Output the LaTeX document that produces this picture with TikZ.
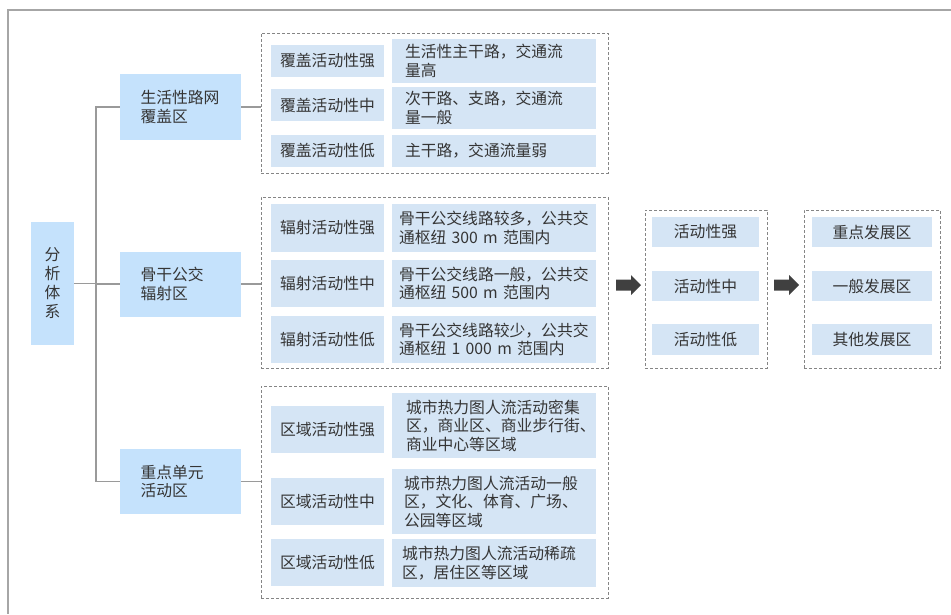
\documentclass[tikz,border=0pt]{standalone}
\usepackage{fontspec}
\setmainfont{Noto Sans CJK SC}
\usepackage{tikz}
\usetikzlibrary{arrows}

\definecolor{zoneblue}{HTML}{C5E2FC}
\definecolor{cellblue}{HTML}{D5E5F5}
\definecolor{inktext}{HTML}{353535}
\definecolor{framegrey}{HTML}{A6A6A6}
\definecolor{treegrey}{HTML}{9A9A9A}
\definecolor{dashgrey}{HTML}{858585}
\definecolor{arrowgrey}{HTML}{404040}

\tikzset{
  every node/.style={text=inktext, font=\fontsize{15.8pt}{18.5pt}\selectfont, inner sep=0pt},
  rootbox/.style={fill=zoneblue, minimum width=43pt, minimum height=123pt, align=center,
    font=\fontsize{15.8pt}{19pt}\selectfont},
  zonebox/.style={fill=zoneblue, minimum width=121pt, minimum height=65pt, text width=80pt, align=left},
  catbox/.style={fill=cellblue, minimum width=113pt, align=center},
  descbox/.style={fill=cellblue, minimum width=204pt, align=left},
  levelbox/.style={fill=cellblue, align=center},
  groupbox/.style={draw=dashgrey, line width=0.9pt, dash pattern=on 3pt off 2pt},
  treeline/.style={draw=treegrey, line width=1.3pt},
  blockarrow/.style={fill=arrowgrey}
}

\begin{document}
\begin{tikzpicture}[x=1pt,y=-1pt]
\useasboundingbox (0,0) rectangle (951,614);
\draw[framegrey, line width=2pt] (951,10) -- (8,10) -- (8,614);

\node[groupbox, minimum width=347pt, minimum height=140pt] (grpA) at (434.5,103) {};
\node[groupbox, minimum width=347pt, minimum height=171pt] (grpB) at (434.5,282.5) {};
\node[groupbox, minimum width=347pt, minimum height=212pt] (grpC) at (434.5,492) {};
\node[groupbox, minimum width=122pt, minimum height=158pt] (grpD) at (706,289) {};
\node[groupbox, minimum width=136pt, minimum height=158pt] (grpE) at (872,289) {};

\node[rootbox] (root) at (52.5,283.5) {分\\析\\体\\系};

\node[zonebox, minimum height=66pt] (zoneA) at (180.5,107) {生活性路网\\覆盖区};
\node[zonebox] (zoneB) at (180.5,284) {骨干公交\\辐射区};
\node[zonebox] (zoneC) at (180.5,481.5) {重点单元\\活动区};

\coordinate (trunk) at (96,0);
\draw[treeline] (root.east) -- (root.east -| trunk);
\draw[treeline] (zoneA.west) -- (zoneA.west -| trunk) -- (zoneC.west -| trunk) -- (zoneC.west);
\draw[treeline] (zoneB.west) -- (zoneB.west -| trunk);
\draw[treeline] (zoneA.east) -- (zoneA.east -| grpA.west);
\draw[treeline] (zoneB.east) -- (zoneB.east -| grpB.west);
\draw[treeline] (zoneC.east) -- (zoneC.east -| grpC.west);

\node[catbox, minimum height=32pt] (catA1) at (327.5,61) {覆盖活动性强};
\node[catbox, minimum height=32pt] (catA2) at (327.5,105) {覆盖活动性中};
\node[catbox, minimum height=32pt] (catA3) at (327.5,151) {覆盖活动性低};
\node[descbox, text width=178pt, minimum height=44pt] (descA1) at (494,61) {生活性主干路，交通流\\量高};
\node[descbox, text width=178pt, minimum height=42pt] (descA2) at (494,108) {次干路、支路，交通流\\量一般};
\node[descbox, text width=178pt, minimum height=32pt] (descA3) at (494,151) {主干路，交通流量弱};

\node[catbox, minimum height=48pt] (catB1) at (327.5,228) {辐射活动性强};
\node[catbox, minimum height=47pt] (catB2) at (327.5,283.5) {辐射活动性中};
\node[catbox, minimum height=47pt] (catB3) at (327.5,339.5) {辐射活动性低};
\node[descbox, text width=190pt, minimum height=48pt] (descB1) at (494,228) {骨干公交线路较多，公共交\\通枢纽 300 m 范围内};
\node[descbox, text width=190pt, minimum height=47pt] (descB2) at (494,283.5) {骨干公交线路一般，公共交\\通枢纽 500 m 范围内};
\node[descbox, text width=190pt, minimum height=47pt] (descB3) at (494,339.5) {骨干公交线路较少，公共交\\通枢纽 1 000 m 范围内};

\node[catbox, minimum height=47pt] (catC1) at (327.5,429.5) {区域活动性强};
\node[catbox, minimum height=47pt] (catC2) at (327.5,501.5) {区域活动性中};
\node[catbox, minimum height=47pt] (catC3) at (327.5,562.5) {区域活动性低};
\node[descbox, text width=176pt, minimum height=65pt] (descC1) at (494,425.5) {城市热力图人流活动密集\\区，商业区、商业步行街、\\商业中心等区域};
\node[descbox, text width=180pt, minimum height=65pt] (descC2) at (494,501.5) {城市热力图人流活动一般\\区，文化、体育、广场、\\公园等区域};
\node[descbox, text width=184pt, minimum height=48pt] (descC3) at (494,563) {城市热力图人流活动稀疏\\区，居住区等区域};

\node[levelbox, minimum width=107pt, minimum height=30pt] (levD1) at (705.5,232) {活动性强};
\node[levelbox, minimum width=107pt, minimum height=30pt] (levD2) at (705.5,286) {活动性中};
\node[levelbox, minimum width=107pt, minimum height=31pt] (levD3) at (705.5,339.5) {活动性低};

\node[levelbox, minimum width=120pt, minimum height=30pt] (levE1) at (872,232) {重点发展区};
\node[levelbox, minimum width=120pt, minimum height=30pt] (levE2) at (872,286) {一般发展区};
\node[levelbox, minimum width=120pt, minimum height=31pt] (levE3) at (872,339.5) {其他发展区};

\fill[blockarrow, shift={(616,285)}] (0,-5.5) -- (15,-5.5) -- (15,-10) -- (25,0) -- (15,10) -- (15,5.5) -- (0,5.5) -- cycle;
\fill[blockarrow, shift={(774,285)}] (0,-5.5) -- (15,-5.5) -- (15,-10) -- (25,0) -- (15,10) -- (15,5.5) -- (0,5.5) -- cycle;
\end{tikzpicture}
\end{document}
